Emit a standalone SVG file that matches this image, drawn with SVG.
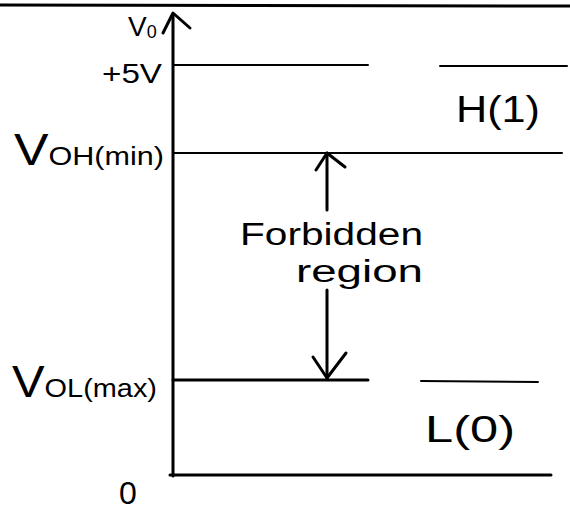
<svg xmlns="http://www.w3.org/2000/svg" width="570" height="513" viewBox="0 0 570 513">
<style>
.ln{stroke:#000;stroke-width:3;fill:none;stroke-linecap:round;stroke-linejoin:round}
.th{stroke:#000;stroke-width:2;fill:none;stroke-linecap:round}
.t{font-family:"Liberation Sans","DejaVu Sans",sans-serif;fill:#000}
</style>
<rect width="570" height="513" fill="#fff"/>
<g id="connectors">
<line class="ln" x1="0" y1="5" x2="570" y2="6"/>
<path class="ln" d="M173 476 L173 14"/>
<path class="ln" d="M163 33 L173 13 L190 28"/>
<line class="th" x1="173" y1="65" x2="368" y2="65"/>
<line class="th" x1="440" y1="66" x2="567" y2="66"/>
<line class="th" x1="173" y1="153" x2="562" y2="153"/>
<line class="ln" x1="173" y1="380" x2="368" y2="380"/>
<line class="th" x1="421" y1="381" x2="538" y2="382"/>
<line class="ln" x1="170" y1="475" x2="551" y2="475"/>
<path class="ln" d="M327 210 L327 153"/>
<path class="ln" d="M316 170 L327 153 L345 167"/>
<path class="ln" d="M327 290 L327 378"/>
<path class="ln" d="M313 357 L327 378 L346 353"/>
</g>
<g id="axis-labels">
<text class="t" x="128" y="36" font-size="28">V<tspan font-size="18" dy="2">0</tspan></text>
<text class="t" x="102" y="83" font-size="28" textLength="60" lengthAdjust="spacingAndGlyphs">+5V</text>
</g>
<g id="voh">
<text class="t" x="14" y="165" font-size="44" textLength="150" lengthAdjust="spacingAndGlyphs">V<tspan font-size="26">OH(min)</tspan></text>
</g>
<g id="vol">
<text class="t" x="12" y="397" font-size="44" textLength="145" lengthAdjust="spacingAndGlyphs">V<tspan font-size="26">OL(max)</tspan></text>
</g>
<g id="zero">
<text class="t" x="119" y="504" font-size="32">0</text>
</g>
<g id="forbidden">
<text class="t" x="240" y="245" font-size="31" textLength="183" lengthAdjust="spacingAndGlyphs">Forbidden</text>
<text class="t" x="296" y="282" font-size="31" textLength="127" lengthAdjust="spacingAndGlyphs">region</text>
</g>
<g id="high">
<text class="t" x="456" y="122" font-size="36" textLength="84" lengthAdjust="spacingAndGlyphs">H(1)</text>
</g>
<g id="low">
<text class="t" x="425" y="442" font-size="36" textLength="90" lengthAdjust="spacingAndGlyphs">L(0)</text>
</g>
</svg>
